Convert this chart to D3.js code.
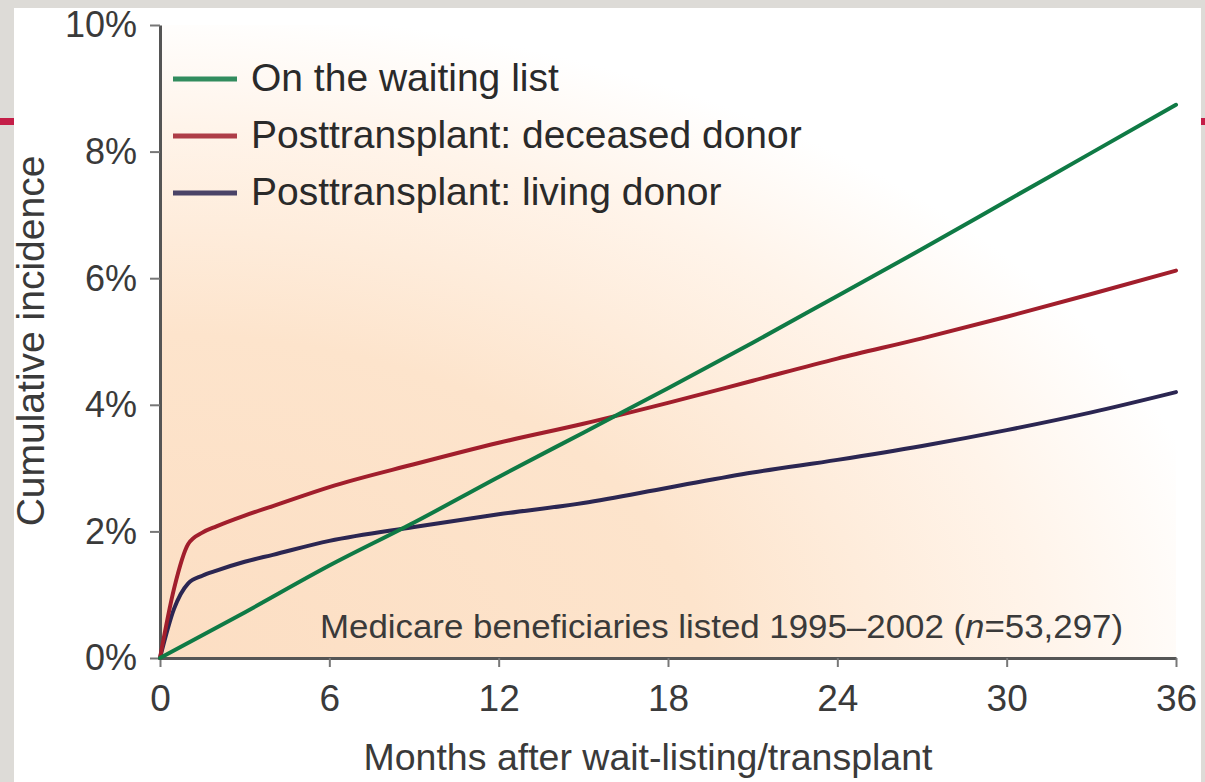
<!DOCTYPE html>
<html>
<head>
<meta charset="utf-8">
<script src="https://cdn.jsdelivr.net/npm/d3@7"></script>
<style>
html,body{margin:0;padding:0;background:#dddbd7;}
svg{display:block;}
text{font-family:"Liberation Sans", Arial, Helvetica, sans-serif;}
</style>
</head>
<body>
<svg id="chart" width="1205" height="782"></svg>
<script>
// ---- data (cumulative incidence, %) ----
const seriesNames = ["On the waiting list", "Posttransplant: deceased donor", "Posttransplant: living donor"];
const seriesColors = ["#0f7a45", "#a11e2c", "#2b2652"];
const waitMonths = [0, 3, 6, 9, 12, 15, 18, 21, 24, 27, 30, 33, 36];
const waiting    = [0, 0.72, 1.46, 2.14, 2.86, 3.56, 4.26, 4.98, 5.72, 6.46, 7.22, 7.98, 8.74];
const txMonths   = [0, 0.5, 1, 1.5, 2, 3, 4, 6, 9, 12, 15, 18, 21, 24, 27, 30, 33, 36];
const deceased   = [0, 1.10, 1.80, 1.98, 2.08, 2.25, 2.40, 2.70, 3.06, 3.40, 3.70, 4.03, 4.38, 4.73, 5.05, 5.39, 5.75, 6.12];
const living     = [0, 0.78, 1.18, 1.30, 1.38, 1.52, 1.63, 1.85, 2.07, 2.27, 2.45, 2.69, 2.93, 3.13, 3.35, 3.60, 3.88, 4.20];
const xTicks = [0, 6, 12, 18, 24, 30, 36];
const yTicks = [0, 2, 4, 6, 8, 10];
const xTitle = "Months after wait-listing/transplant";
const yTitle = "Cumulative incidence";
const note = "Medicare beneficiaries listed 1995\u20132002 (";

const svg = d3.select("#chart");
const defs = svg.append("defs");

// page frame
svg.append("rect").attr("x",0).attr("y",0).attr("width",1205).attr("height",782).attr("fill","#dddbd7");
svg.append("rect").attr("x",14).attr("y",8).attr("width",1187).attr("height",774).attr("fill","#ffffff");
svg.append("rect").attr("x",0).attr("y",118).attr("width",14).attr("height",7).attr("fill","#c41e48");
svg.append("rect").attr("x",1201).attr("y",118).attr("width",4).attr("height",7).attr("fill","#c41e48");

const x = d3.scaleLinear().domain([0, 36]).range([160, 1176]);
const y = d3.scaleLinear().domain([0, 10]).range([658, 25]);

// background gradient
const grad = defs.append("radialGradient").attr("id","bg")
  .attr("gradientUnits","userSpaceOnUse")
  .attr("cx", x(0)).attr("cy", y(0)).attr("r", 1080)
  .attr("gradientTransform", `translate(${x(0)},${y(0)}) scale(1,0.6) translate(${-x(0)},${-y(0)})`);
grad.append("stop").attr("offset","0").attr("stop-color","#fcdec3");
grad.append("stop").attr("offset","0.5").attr("stop-color","#fde4cc");
grad.append("stop").attr("offset","0.82").attr("stop-color","#fff4ea");
grad.append("stop").attr("offset","1").attr("stop-color","#ffffff");
svg.append("rect").attr("x", x(0)+2).attr("y", y(10)).attr("width", x(36)-x(0)-2).attr("height", y(0)-y(10)-1)
  .attr("fill","url(#bg)");

// axes
const yAxis = d3.axisLeft(y).tickValues(yTicks).tickFormat(d => d + "%").tickSize(10).tickSizeOuter(0).tickPadding(13);
const gy = svg.append("g").attr("transform", `translate(${x(0)},0)`).call(yAxis);
gy.select(".domain").attr("stroke","#555").attr("stroke-width",3);
gy.selectAll(".tick line").attr("stroke","#777").attr("stroke-width",2);
gy.selectAll(".tick text").attr("font-size",36).attr("fill","#3a3a3a").attr("dy","0.33em");

const xAxis = d3.axisBottom(x).tickValues(xTicks).tickSize(9).tickSizeOuter(0);
const gx = svg.append("g").attr("transform", `translate(0,${y(0)})`).call(xAxis);
gx.select(".domain").attr("stroke","#555").attr("stroke-width",3);
gx.selectAll(".tick line").attr("stroke","#777").attr("stroke-width",2);
gx.selectAll(".tick text").attr("font-size",37).attr("fill","#3a3a3a").attr("y",53).attr("dy",0);

// axis titles
svg.append("text").attr("x", 648).attr("y", 770).attr("text-anchor","middle")
  .attr("font-size",37.5).attr("fill","#3a3a3a").text(xTitle);
svg.append("text").attr("transform", `translate(44,341) rotate(-90)`).attr("text-anchor","middle")
  .attr("font-size",39).attr("fill","#3a3a3a").text(yTitle);

// lines
const line = d3.line().x(d => x(d[0])).y(d => y(d[1])).curve(d3.curveMonotoneX);
const livingPts = txMonths.map((m,i) => [m, living[i]]);
const deceasedPts = txMonths.map((m,i) => [m, deceased[i]]);
const waitingPts = waitMonths.map((m,i) => [m, waiting[i]]);
[[livingPts, seriesColors[2]], [deceasedPts, seriesColors[1]], [waitingPts, seriesColors[0]]].forEach(([pts, c]) => {
  svg.append("path").datum(pts).attr("d", line).attr("fill","none")
    .attr("stroke", c).attr("stroke-width", 4).attr("stroke-linejoin","round").attr("stroke-linecap","round");
});

// legend
const legendY = [79, 136, 193];
seriesNames.forEach((name, i) => {
  svg.append("line").attr("x1",173).attr("x2",237).attr("y1",legendY[i]).attr("y2",legendY[i])
    .attr("stroke", seriesColors[i]).attr("stroke-width",5).attr("opacity",0.85);
  svg.append("text").attr("x",251).attr("y",legendY[i]+12).attr("font-size",39).attr("fill","#2a2a2a").text(name);
});

// note
const t = svg.append("text").attr("x",320).attr("y",638).attr("font-size",34).attr("fill","#3a3a3a")
  .attr("textLength", 803).attr("lengthAdjust","spacingAndGlyphs");
t.append("tspan").text(note);
t.append("tspan").attr("font-style","italic").text("n");
t.append("tspan").text("=53,297)");
</script>
</body>
</html>
